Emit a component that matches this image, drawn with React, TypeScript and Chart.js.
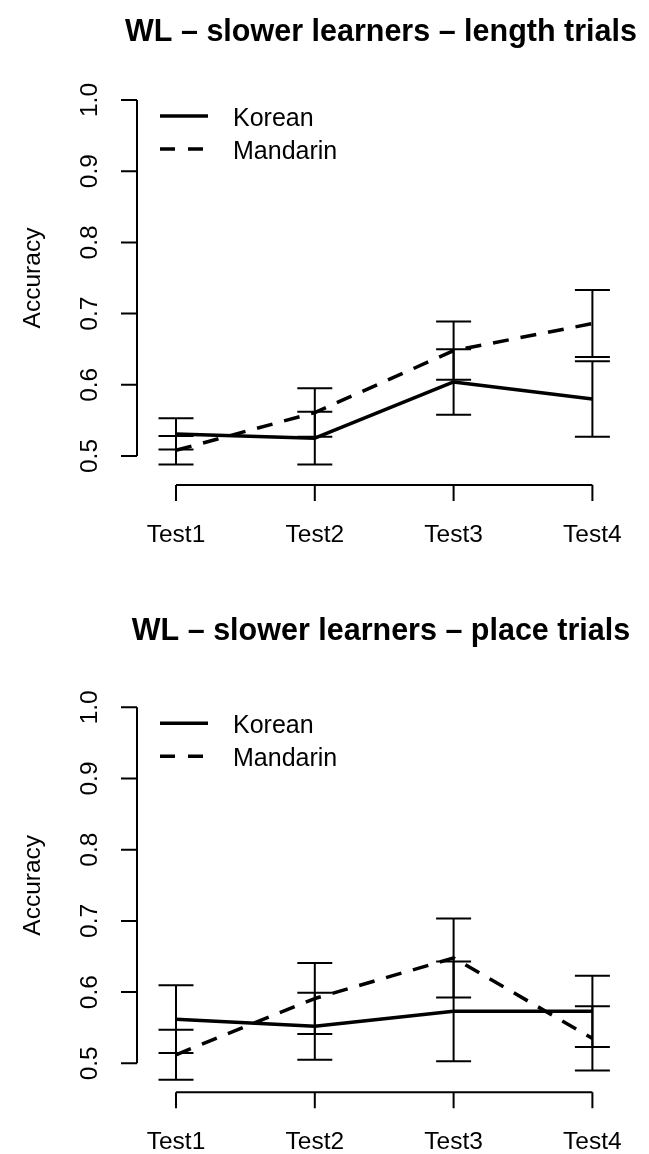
import React, { useEffect, useRef } from "react";
import { Chart, registerables } from "chart.js";

Chart.register(...registerables);

// ---------- data ----------
const categories = ["Test1", "Test2", "Test3", "Test4"];
const categoryX = [1, 2, 3, 4];
const yTickValues = [0.5, 0.6, 0.7, 0.8, 0.9, 1.0];
const yTickLabels = ["0.5", "0.6", "0.7", "0.8", "0.9", "1.0"];
const seriesNames = ["Korean", "Mandarin"];
const yAxisTitle = "Accuracy";

const lengthTitle = "WL \u2013 slower learners \u2013 length trials";
const lengthKorean = [0.531, 0.525, 0.604, 0.58];
const lengthKoreanErr = [0.022, 0.037, 0.046, 0.053];
const lengthMandarin = [0.508, 0.561, 0.648, 0.686];
const lengthMandarinErr = [0.02, 0.034, 0.041, 0.047];

const placeTitle = "WL \u2013 slower learners \u2013 place trials";
const placeKorean = [0.562, 0.552, 0.573, 0.573];
const placeKoreanErr = [0.0475, 0.047, 0.07, 0.05];
const placeMandarin = [0.512, 0.591, 0.648, 0.535];
const placeMandarinErr = [0.035, 0.05, 0.0555, 0.045];

// ---------- layout (pixels) ----------
const W = 649;
const PANEL_H = 577;
const FONT = '"Liberation Sans", Arial, Helvetica, sans-serif';
const PLOT_LEFT = 137;
const PLOT_RIGHT = 631.4;
const X_FIRST = 176;
const X_LAST = 592.4;
const Y_SPAN = 356;
const AXIS_GAP = 29;
const TICK = 16;
const CAP = 17.5;

type Spec = {
  title: string;
  titleBaseline: number;
  oy: number;
  korean: number[];
  koreanErr: number[];
  mandarin: number[];
  mandarinErr: number[];
};

const specs: Spec[] = [
  {
    title: lengthTitle,
    titleBaseline: 41,
    oy: 100,
    korean: lengthKorean,
    koreanErr: lengthKoreanErr,
    mandarin: lengthMandarin,
    mandarinErr: lengthMandarinErr,
  },
  {
    title: placeTitle,
    titleBaseline: 63,
    oy: 130.3,
    korean: placeKorean,
    koreanErr: placeKoreanErr,
    mandarin: placeMandarin,
    mandarinErr: placeMandarinErr,
  },
];

const DASH = [16, 12];

function Panel({ spec, top }: { spec: Spec; top: number }) {
  const ref = useRef<HTMLCanvasElement>(null);

  useEffect(() => {
    const canvas = ref.current!;
    const oy = spec.oy;
    const unitX = (X_LAST - X_FIRST) / (categoryX.length - 1);
    const xMin = categoryX[0] - (X_FIRST - PLOT_LEFT) / unitX;
    const xMax = categoryX[categoryX.length - 1] + (PLOT_RIGHT - X_LAST) / unitX;
    const yLo = yTickValues[0];
    const yHi = yTickValues[yTickValues.length - 1];
    const unitY = Y_SPAN / (yHi - yLo);
    const yMin = yLo - AXIS_GAP / unitY;
    const yMax = yHi;

    const series = [
      { name: seriesNames[0], values: spec.korean, err: spec.koreanErr, dash: [] as number[] },
      { name: seriesNames[1], values: spec.mandarin, err: spec.mandarinErr, dash: DASH },
    ];

    const rStyle = {
      id: "rStyle",
      afterDatasetsDraw(chart: any) {
        const ctx: CanvasRenderingContext2D = chart.ctx;
        const xs = chart.scales.x;
        const ys = chart.scales.y;
        const area = chart.chartArea;
        ctx.save();
        ctx.strokeStyle = "#000";
        ctx.fillStyle = "#000";
        ctx.setLineDash([]);
        ctx.lineCap = "butt";

        // error bars
        ctx.lineWidth = 2;
        series.forEach((s) =>
          s.values.forEach((v, i) => {
            const x = xs.getPixelForValue(categoryX[i]);
            const y1 = ys.getPixelForValue(v + s.err[i]);
            const y2 = ys.getPixelForValue(v - s.err[i]);
            ctx.beginPath();
            ctx.moveTo(x, y1);
            ctx.lineTo(x, y2);
            ctx.moveTo(x - CAP, y1);
            ctx.lineTo(x + CAP, y1);
            ctx.moveTo(x - CAP, y2);
            ctx.lineTo(x + CAP, y2);
            ctx.stroke();
          })
        );

        // y axis
        const axX = area.left;
        ctx.lineWidth = 2;
        ctx.beginPath();
        ctx.moveTo(axX, ys.getPixelForValue(yHi));
        ctx.lineTo(axX, ys.getPixelForValue(yLo));
        yTickValues.forEach((v) => {
          const y = ys.getPixelForValue(v);
          ctx.moveTo(axX - TICK, y);
          ctx.lineTo(axX, y);
        });
        ctx.stroke();
        ctx.font = `24.5px ${FONT}`;
        ctx.textAlign = "center";
        ctx.textBaseline = "alphabetic";
        yTickValues.forEach((v, i) => {
          const y = ys.getPixelForValue(v);
          ctx.save();
          ctx.translate(97, y);
          ctx.rotate(-Math.PI / 2);
          ctx.fillText(yTickLabels[i], 0, 0);
          ctx.restore();
        });

        // x axis
        const axY = area.bottom;
        ctx.beginPath();
        ctx.moveTo(xs.getPixelForValue(categoryX[0]), axY);
        ctx.lineTo(xs.getPixelForValue(categoryX[categoryX.length - 1]), axY);
        categoryX.forEach((c) => {
          const x = xs.getPixelForValue(c);
          ctx.moveTo(x, axY);
          ctx.lineTo(x, axY + TICK);
        });
        ctx.stroke();
        categories.forEach((label, i) => {
          ctx.fillText(label, xs.getPixelForValue(categoryX[i]), oy + 442);
        });

        // axis title
        ctx.save();
        ctx.translate(39.5, oy + 178);
        ctx.rotate(-Math.PI / 2);
        ctx.fillText(yAxisTitle, 0, 0);
        ctx.restore();

        // main title
        ctx.font = `bold 30.5px ${FONT}`;
        ctx.fillText(spec.title, 381, spec.titleBaseline);

        // legend
        ctx.font = `25px ${FONT}`;
        ctx.textAlign = "left";
        series.forEach((s, i) => {
          const ly = oy + 16 + i * 33;
          ctx.lineWidth = 3.5;
          ctx.setLineDash(i === 0 ? [] : [15, 13]);
          ctx.beginPath();
          ctx.moveTo(160, ly);
          ctx.lineTo(208, ly);
          ctx.stroke();
          ctx.setLineDash([]);
          ctx.fillText(s.name, 233, ly + 10);
        });

        ctx.restore();
      },
    };

    const chart = new Chart(canvas, {
      type: "line",
      data: {
        datasets: series.map((s) => ({
          label: s.name,
          data: s.values.map((v, i) => ({ x: categoryX[i], y: v })),
          borderColor: "#000",
          backgroundColor: "#000",
          borderWidth: 3.5,
          borderDash: s.dash,
          borderCapStyle: "butt",
          borderJoinStyle: "round",
          pointRadius: 0,
          tension: 0,
          fill: false,
          clip: false,
        })),
      },
      options: {
        responsive: false,
        animation: false,
        devicePixelRatio: 1,
        events: [],
        layout: {
          padding: {
            left: PLOT_LEFT,
            right: W - PLOT_RIGHT,
            top: oy,
            bottom: PANEL_H - (oy + Y_SPAN + AXIS_GAP),
          },
        },
        scales: {
          x: { type: "linear", min: xMin, max: xMax, display: false },
          y: { type: "linear", min: yMin, max: yMax, display: false },
        },
        plugins: {
          legend: { display: false },
          title: { display: false },
          tooltip: { enabled: false },
        },
      } as any,
      plugins: [rStyle],
    });

    return () => chart.destroy();
  }, [spec]);

  return (
    <canvas
      ref={ref}
      width={W}
      height={PANEL_H}
      style={{ position: "absolute", left: 0, top, width: W, height: PANEL_H }}
    />
  );
}

export default function App() {
  return (
    <div
      style={{
        position: "absolute",
        left: 0,
        top: 0,
        width: W,
        height: PANEL_H * 2,
        background: "#fff",
      }}
    >
      {specs.map((s, i) => (
        <Panel key={i} spec={s} top={i * PANEL_H} />
      ))}
    </div>
  );
}
